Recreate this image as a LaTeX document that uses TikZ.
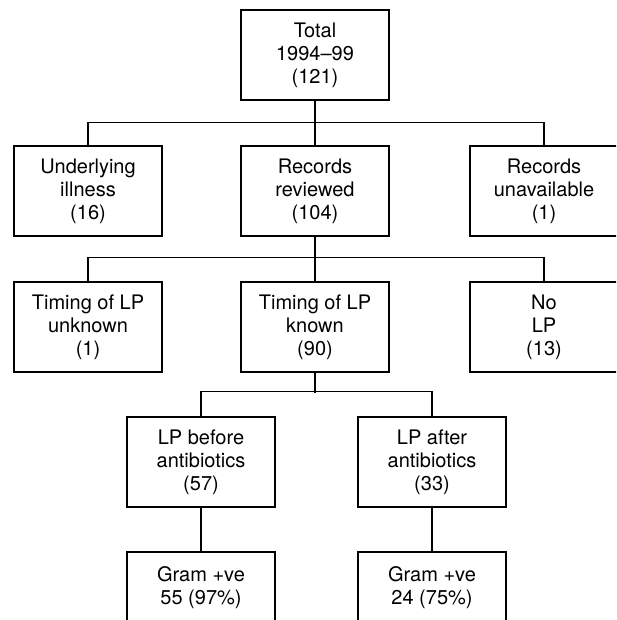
\documentclass[tikz,border=0pt]{standalone}
\usepackage{fontspec}
\setmainfont{TeX Gyre Heros}
\usetikzlibrary{positioning}

\tikzset{
	box/.style={draw,line width=1.3pt,rectangle,minimum width=148pt,minimum height=90pt,
		inner sep=0pt,align=center,font=\fontsize{20}{23}\selectfont},
	link/.style={line width=1.3pt}
}

\begin{document}
\begin{tikzpicture}[line cap=butt,line join=miter,x=1pt,y=1pt]
	\useasboundingbox (0,0) rectangle (616,620);
	\clip (0,0) rectangle (616,620);
	% level 1
	\node[box] (total) at (315,565) {Total\\1994--99\\(121)};
	% level 2
	\node[box] (illness) at (88,429) {Underlying\\illness\\(16)};
	\node[box] (reviewed) at (315,429) {Records\\reviewed\\(104)};
	\node[box] (unavail) at (544,429) {Records\\unavailable\\(1)};
	% level 3
	\node[box] (unknown) at (88,293) {Timing of LP\\unknown\\(1)};
	\node[box] (known) at (315,293) {Timing of LP\\known\\(90)};
	\node[box] (nolp) at (544,293) {No\\LP\\(13)};
	% level 4
	\node[box] (before) at (201,158) {LP before\\antibiotics\\(57)};
	\node[box] (after) at (432,158) {LP after\\antibiotics\\(33)};
	% level 5
	\node[box] (grambefore) at (201,23) {Gram +ve\\55 (97\%)\\\mbox{}};
	\node[box] (gramafter) at (432,23) {Gram +ve\\24 (75\%)\\\mbox{}};

	\draw[link] (total) -- (reviewed);
	\draw[link] (illness.north) -- ++(0,23) -| (unavail.north);
	\draw[link] (reviewed) -- (known);
	\draw[link] (unknown.north) -- ++(0,24) -| (nolp.north);
	\draw[link] (known.south) -- ++(0,-20);
	\draw[link] (before.north) -- ++(0,25) -| (after.north);
	\draw[link] (before) -- (grambefore);
	\draw[link] (after) -- (gramafter);
\end{tikzpicture}
\end{document}
